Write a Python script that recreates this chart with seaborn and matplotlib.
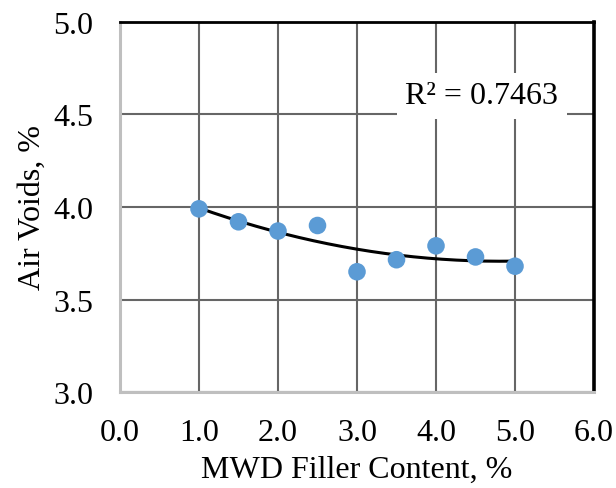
import numpy as np
import pandas as pd
import matplotlib
matplotlib.use("Agg")
import matplotlib.pyplot as plt
import seaborn as sns

# Data
filler_content = [1.0, 1.5, 2.0, 2.5, 3.0, 3.5, 4.0, 4.5, 5.0]
air_voids = [3.99, 3.92, 3.87, 3.90, 3.65, 3.715, 3.79, 3.73, 3.68]
x_ticks = [0.0, 1.0, 2.0, 3.0, 4.0, 5.0, 6.0]
y_ticks = [3.0, 3.5, 4.0, 4.5, 5.0]
r2_label = "R² = 0.7463"

df = pd.DataFrame({"filler": filler_content, "voids": air_voids})

sns.set_theme(style="white")
plt.rcParams["font.family"] = ["Liberation Serif", "DejaVu Serif"]

fig = plt.figure(figsize=(6.16, 4.89), dpi=100)
ax = fig.add_axes([0.1948, 0.1963, 0.7695, 0.7567])

# Grid
ax.set_xlim(0, 6)
ax.set_ylim(3, 5)
ax.set_xticks(x_ticks)
ax.set_yticks(y_ticks)
ax.grid(True, color="#666666", linewidth=1.5, zorder=0)
ax.set_axisbelow(True)

# Polynomial (order 2) trend line
coef = np.polyfit(df["filler"], df["voids"], 2)
xs = np.linspace(min(filler_content), max(filler_content), 200)
trend = pd.DataFrame({"filler": xs, "voids": np.polyval(coef, xs)})
sns.lineplot(data=trend, x="filler", y="voids", color="black", linewidth=2.2,
             ax=ax, zorder=3)

# Measured points
sns.scatterplot(data=df, x="filler", y="voids", color="#5B9BD5", s=160,
                edgecolor="none", ax=ax, zorder=4)

ax.set_xticklabels([f"{v:.1f}" for v in x_ticks])
ax.set_yticklabels([f"{v:.1f}" for v in y_ticks])
ax.tick_params(axis="both", labelsize=23, colors="black", length=0, pad=19)
ax.set_xlabel("MWD Filler Content, %", fontsize=23, color="black", labelpad=5)
ax.set_ylabel("Air Voids, %", fontsize=23, color="black", labelpad=5)

# Frame
ax.spines["left"].set_color("#bfbfbf")
ax.spines["left"].set_linewidth(2.2)
ax.spines["bottom"].set_color("#bfbfbf")
ax.spines["bottom"].set_linewidth(2.2)
ax.spines["top"].set_color("black")
ax.spines["top"].set_linewidth(2.0)
ax.spines["right"].set_color("black")
ax.spines["right"].set_linewidth(2.6)

# R² annotation with white box covering the grid
ax.text(4.58, 4.6, r2_label, fontsize=23, color="black",
        ha="center", va="center", zorder=5,
        bbox=dict(facecolor="white", edgecolor="none", pad=6))

fig.savefig("out.png", dpi=100)
